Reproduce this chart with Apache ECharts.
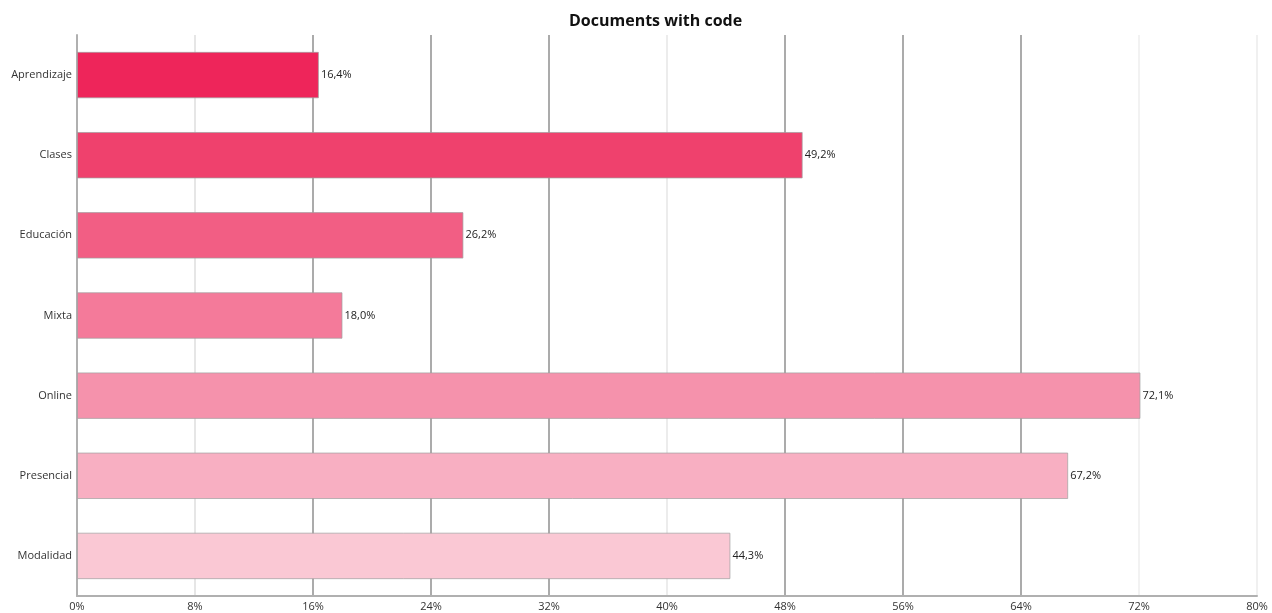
<!DOCTYPE html>
<html>
<head>
<meta charset="utf-8">
<title>Documents with code</title>
<script src="https://cdn.jsdelivr.net/npm/echarts@6/dist/echarts.min.js"></script>
<style>
  html, body { margin: 0; padding: 0; background: #ffffff; }
  #chart { width: 1272px; height: 613px; }
</style>
</head>
<body>
<div id="chart"></div>
<script>
// Share of documents that include code, per topic keyword (percent)
const categories = ['Aprendizaje', 'Clases', 'Educación', 'Mixta', 'Online', 'Presencial', 'Modalidad'];
const values = [16.4, 49.2, 26.2, 18.0, 72.1, 67.2, 44.3];
const barColors = ['#EE255A', '#EF416D', '#F25E84', '#F47A9A', '#F592AC', '#F8AFC2', '#FAC8D4'];

// Value axis: 0–80 % in steps of 8
const axisMin = 0;
const axisMax = 80;
const axisStep = 8;
// Gridline shades per tick (0 %, 8 %, ... 80 %)
const gridShades = ['#b0b0b0', '#e6e6e6', '#ababab', '#ababab', '#ababab', '#ececec',
                    '#ababab', '#ababab', '#ababab', '#f2f2f2', '#f0f0f0'];

const fmt = v => v.toFixed(1).replace('.', ',') + '%';
const font = '"Open Sans", "Noto Sans", sans-serif';

const chart = echarts.init(document.getElementById('chart'), null, { renderer: 'canvas' });
chart.setOption({
  animation: false,
  backgroundColor: '#ffffff',
  title: {
    text: 'Documents with code',
    left: 564,
    top: 8,
    textStyle: { fontFamily: font, fontSize: 16, fontWeight: 'bold', color: '#111' }
  },
  grid: { left: 77, right: 15, top: 35, bottom: 17, containLabel: false },
  xAxis: {
    type: 'value',
    min: axisMin,
    max: axisMax,
    interval: axisStep,
    axisLine: { show: true, lineStyle: { color: '#b0b0b0', width: 2 } },
    axisTick: { show: false },
    axisLabel: {
      formatter: v => v + '%',
      fontFamily: font, fontSize: 11, color: '#333', margin: 5
    },
    splitLine: { show: true, lineStyle: { color: gridShades, width: 2 } }
  },
  yAxis: {
    type: 'category',
    data: categories,
    inverse: true,
    axisLine: { show: true, lineStyle: { color: '#b0b0b0', width: 2 } },
    axisTick: { show: false },
    axisLabel: { fontFamily: font, fontSize: 11, color: '#333', margin: 5 }
  },
  series: [{
    type: 'bar',
    data: values.map((v, i) => ({
      value: v,
      itemStyle: { color: barColors[i] }
    })),
    barWidth: '58%',
    itemStyle: { borderColor: 'rgba(160,160,160,0.7)', borderWidth: 1 },
    label: {
      show: true,
      position: 'right',
      distance: 2,
      formatter: p => fmt(p.value),
      fontFamily: font, fontSize: 11, color: '#222'
    }
  }]
});
</script>
</body>
</html>
